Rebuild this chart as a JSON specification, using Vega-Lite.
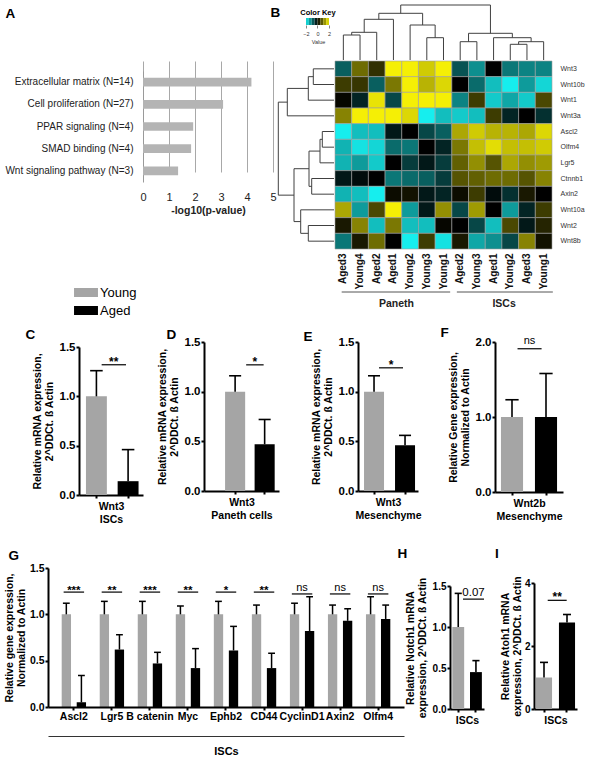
{
"$schema":"https://vega.github.io/schema/vega-lite/v6.json",
"padding":0,"autosize":{"type":"pad"},"background":"white",
"spacing":0,
"config":{
 "font":"Liberation Sans",
 "view":{"stroke":null},
 "title":{"anchor":"start","frame":"group","offset":0,"fontSize":13.5,"fontWeight":"bold","baseline":"middle","color":"#000"},
 "axis":{"domainColor":"#000","domainWidth":2,"tickColor":"#000","tickWidth":2,"tickSize":3,"labelFontSize":11.5,"labelFontWeight":"bold","labelColor":"#000","labelPadding":1,"titleFontSize":10.5,"titleFontWeight":"bold","titleColor":"#000","grid":false,"labelFlush":false,"labelOverlap":false},
 "axisX":{"titleLineHeight":13,"titlePadding":2},
 "axisY":{"titleLineHeight":12,"titlePadding":5}
},
"datasets":{
 "hm":[
{"g":"Wnt3","c":1,"v":-0.8},{"g":"Wnt3","c":2,"v":0.9},{"g":"Wnt3","c":3,"v":0.4},{"g":"Wnt3","c":4,"v":2},{"g":"Wnt3","c":5,"v":2},{"g":"Wnt3","c":6,"v":1.7},{"g":"Wnt3","c":7,"v":2},{"g":"Wnt3","c":8,"v":-0.7},{"g":"Wnt3","c":9,"v":-1.2},{"g":"Wnt3","c":10,"v":0},{"g":"Wnt3","c":11,"v":-1.0},{"g":"Wnt3","c":12,"v":-1.1},{"g":"Wnt3","c":13,"v":-1.1},
{"g":"Wnt10b","c":1,"v":0.5},{"g":"Wnt10b","c":2,"v":0.45},{"g":"Wnt10b","c":3,"v":-0.8},{"g":"Wnt10b","c":4,"v":1.0},{"g":"Wnt10b","c":5,"v":2},{"g":"Wnt10b","c":6,"v":1.5},{"g":"Wnt10b","c":7,"v":1.8},{"g":"Wnt10b","c":8,"v":0},{"g":"Wnt10b","c":9,"v":-0.9},{"g":"Wnt10b","c":10,"v":-1.6},{"g":"Wnt10b","c":11,"v":-2},{"g":"Wnt10b","c":12,"v":-1.3},{"g":"Wnt10b","c":13,"v":-1.8},
{"g":"Wnt1","c":1,"v":0.05},{"g":"Wnt1","c":2,"v":-0.3},{"g":"Wnt1","c":3,"v":1.9},{"g":"Wnt1","c":4,"v":-0.6},{"g":"Wnt1","c":5,"v":2},{"g":"Wnt1","c":6,"v":2},{"g":"Wnt1","c":7,"v":2},{"g":"Wnt1","c":8,"v":-1.1},{"g":"Wnt1","c":9,"v":0.5},{"g":"Wnt1","c":10,"v":-1.7},{"g":"Wnt1","c":11,"v":-1.4},{"g":"Wnt1","c":12,"v":-1.7},{"g":"Wnt1","c":13,"v":0.6},
{"g":"Wnt3a","c":1,"v":1.1},{"g":"Wnt3a","c":2,"v":2},{"g":"Wnt3a","c":3,"v":2},{"g":"Wnt3a","c":4,"v":2},{"g":"Wnt3a","c":5,"v":1.8},{"g":"Wnt3a","c":6,"v":-2},{"g":"Wnt3a","c":7,"v":-1.6},{"g":"Wnt3a","c":8,"v":-1.7},{"g":"Wnt3a","c":9,"v":-1.6},{"g":"Wnt3a","c":10,"v":0.5},{"g":"Wnt3a","c":11,"v":-0.3},{"g":"Wnt3a","c":12,"v":0},{"g":"Wnt3a","c":13,"v":-0.4},
{"g":"Ascl2","c":1,"v":-2},{"g":"Ascl2","c":2,"v":-1.6},{"g":"Ascl2","c":3,"v":-1.6},{"g":"Ascl2","c":4,"v":-0.2},{"g":"Ascl2","c":5,"v":0},{"g":"Ascl2","c":6,"v":-0.6},{"g":"Ascl2","c":7,"v":-0.8},{"g":"Ascl2","c":8,"v":1.4},{"g":"Ascl2","c":9,"v":1.7},{"g":"Ascl2","c":10,"v":1.5},{"g":"Ascl2","c":11,"v":1.5},{"g":"Ascl2","c":12,"v":1.4},{"g":"Ascl2","c":13,"v":1.8},
{"g":"Olfm4","c":1,"v":-1.5},{"g":"Olfm4","c":2,"v":-1.9},{"g":"Olfm4","c":3,"v":-1.8},{"g":"Olfm4","c":4,"v":-0.9},{"g":"Olfm4","c":5,"v":-1.0},{"g":"Olfm4","c":6,"v":0},{"g":"Olfm4","c":7,"v":-0.3},{"g":"Olfm4","c":8,"v":1.0},{"g":"Olfm4","c":9,"v":1.6},{"g":"Olfm4","c":10,"v":1.85},{"g":"Olfm4","c":11,"v":1.6},{"g":"Olfm4","c":12,"v":1.6},{"g":"Olfm4","c":13,"v":1.7},
{"g":"Lgr5","c":1,"v":-1.5},{"g":"Lgr5","c":2,"v":-1.3},{"g":"Lgr5","c":3,"v":-1.7},{"g":"Lgr5","c":4,"v":0},{"g":"Lgr5","c":5,"v":-0.5},{"g":"Lgr5","c":6,"v":-0.2},{"g":"Lgr5","c":7,"v":-0.5},{"g":"Lgr5","c":8,"v":0.8},{"g":"Lgr5","c":9,"v":1.2},{"g":"Lgr5","c":10,"v":0.7},{"g":"Lgr5","c":11,"v":1.4},{"g":"Lgr5","c":12,"v":1.2},{"g":"Lgr5","c":13,"v":1.3},
{"g":"Ctnnb1","c":1,"v":-0.2},{"g":"Ctnnb1","c":2,"v":-0.1},{"g":"Ctnnb1","c":3,"v":0},{"g":"Ctnnb1","c":4,"v":-1.0},{"g":"Ctnnb1","c":5,"v":-0.9},{"g":"Ctnnb1","c":6,"v":-0.8},{"g":"Ctnnb1","c":7,"v":-0.5},{"g":"Ctnnb1","c":8,"v":0.7},{"g":"Ctnnb1","c":9,"v":0.8},{"g":"Ctnnb1","c":10,"v":0.9},{"g":"Ctnnb1","c":11,"v":0.9},{"g":"Ctnnb1","c":12,"v":0.7},{"g":"Ctnnb1","c":13,"v":1.1},
{"g":"Axin2","c":1,"v":-1.5},{"g":"Axin2","c":2,"v":-1.6},{"g":"Axin2","c":3,"v":-2},{"g":"Axin2","c":4,"v":0.1},{"g":"Axin2","c":5,"v":0.15},{"g":"Axin2","c":6,"v":-0.2},{"g":"Axin2","c":7,"v":-0.3},{"g":"Axin2","c":8,"v":0.1},{"g":"Axin2","c":9,"v":0.5},{"g":"Axin2","c":10,"v":-0.1},{"g":"Axin2","c":11,"v":-0.4},{"g":"Axin2","c":12,"v":0.2},{"g":"Axin2","c":13,"v":0},
{"g":"Wnt10a","c":1,"v":1.4},{"g":"Wnt10a","c":2,"v":-1.3},{"g":"Wnt10a","c":3,"v":0.6},{"g":"Wnt10a","c":4,"v":2},{"g":"Wnt10a","c":5,"v":-1.3},{"g":"Wnt10a","c":6,"v":-0.2},{"g":"Wnt10a","c":7,"v":1.2},{"g":"Wnt10a","c":8,"v":-0.6},{"g":"Wnt10a","c":9,"v":1.3},{"g":"Wnt10a","c":10,"v":0},{"g":"Wnt10a","c":11,"v":-1.3},{"g":"Wnt10a","c":12,"v":-0.3},{"g":"Wnt10a","c":13,"v":0.5},
{"g":"Wnt2","c":1,"v":0.2},{"g":"Wnt2","c":2,"v":1.1},{"g":"Wnt2","c":3,"v":-1.6},{"g":"Wnt2","c":4,"v":1.0},{"g":"Wnt2","c":5,"v":-1.6},{"g":"Wnt2","c":6,"v":-1.6},{"g":"Wnt2","c":7,"v":0.05},{"g":"Wnt2","c":8,"v":0},{"g":"Wnt2","c":9,"v":-0.6},{"g":"Wnt2","c":10,"v":-1.6},{"g":"Wnt2","c":11,"v":0.6},{"g":"Wnt2","c":12,"v":-0.2},{"g":"Wnt2","c":13,"v":0.3},
{"g":"Wnt8b","c":1,"v":-1.0},{"g":"Wnt8b","c":2,"v":0.2},{"g":"Wnt8b","c":3,"v":0.9},{"g":"Wnt8b","c":4,"v":0},{"g":"Wnt8b","c":5,"v":-2},{"g":"Wnt8b","c":6,"v":0.5},{"g":"Wnt8b","c":7,"v":-1.9},{"g":"Wnt8b","c":8,"v":0.2},{"g":"Wnt8b","c":9,"v":-1.4},{"g":"Wnt8b","c":10,"v":-1.2},{"g":"Wnt8b","c":11,"v":-0.6},{"g":"Wnt8b","c":12,"v":1.1},{"g":"Wnt8b","c":13,"v":0.15}
 ],
 "gsig":[{"gene":"Ascl2","s":1.24,"t":"***"},{"gene":"Lgr5","s":1.24,"t":"**"},{"gene":"B catenin","s":1.24,"t":"***"},{"gene":"Myc","s":1.24,"t":"**"},{"gene":"Ephb2","s":1.24,"t":"*"},{"gene":"CD44","s":1.24,"t":"**"},{"gene":"CyclinD1","s":1.22,"t":"ns"},{"gene":"Axin2","s":1.22,"t":"ns"},{"gene":"Olfm4","s":1.22,"t":"ns"}],
 "csig":[{"a":"Young","b":"Aged","s":1.32,"t":"**"}],
 "dsig":[{"a":"Young","b":"Aged","s":1.27,"t":"*"}],
 "esig":[{"a":"Young","b":"Aged","s":1.24,"t":"*"}],
 "fsig":[{"a":"Young","b":"Aged","s":1.91,"t":"ns"}],
 "hsig":[{"a":"Young","b":"Aged","s":1.34,"t":"0.07"}],
 "isig":[{"a":"Young","b":"Aged","s":3.45,"t":"**"}]
},
"vconcat":[
{"columns":7,"spacing":0,"bounds":"flush","concat":[
{"width":79,"height":5,"data":{"values":[]},"mark":"point"},
{"width":64,"height":1,"data":{"values":[]},"mark":"point"},
{"width":130,"height":1,"data":{"values":[]},"mark":"point"},
{"width":1,"height":1,"data":{"values":[]},"mark":"point"},
{"width":60,"height":1,"data":{"values":[]},"mark":"point"},
{"width":1,"height":1,"data":{"values":[]},"mark":"point"},
{"width":218,"height":1,"data":{"values":[]},"mark":"point"},

{"width":1,"height":56,"data":{"values":[]},"mark":"point"},
{"width":1,"height":1,"data":{"values":[]},"mark":"point"},
{"width":1,"height":1,"data":{"values":[]},"mark":"point"},
{"width":1,"height":1,"data":{"values":[]},"mark":"point"},
{"width":60,"height":20,
 "title":{"text":"Color Key","anchor":"middle","fontSize":7.5,"offset":2,"baseline":"bottom","dx":14,"dy":21},
 "data":{"values":[{"lo":-2,"hi":-1.5,"m":-1.75},{"lo":-1.5,"hi":-1,"m":-1.25},{"lo":-1,"hi":-0.5,"m":-0.75},{"lo":-0.5,"hi":0,"m":-0.25},{"lo":0,"hi":0.5,"m":0.25},{"lo":0.5,"hi":1,"m":0.75},{"lo":1,"hi":1.5,"m":1.25},{"lo":1.5,"hi":2,"m":1.75}]},
 "mark":{"type":"rect"},
 "encoding":{
  "x":{"field":"lo","type":"quantitative","scale":{"domain":[-7.565,2.87],"nice":false,"zero":false},"axis":{"values":[-2,0,2],"format":"d","labelFontSize":5.5,"labelFontWeight":"normal","labelColor":"#333","domain":false,"tickSize":3,"tickWidth":0.6,"tickColor":"#333","labelPadding":3,"title":"Value","titleFontSize":5.5,"titleFontWeight":"normal","titleColor":"#333","titlePadding":3,"titleX":44}},
  "x2":{"field":"hi"},
  "y":{"datum":0,"type":"quantitative","scale":{"domain":[0,2.857]},"axis":null},
  "y2":{"datum":1},
  "color":{"field":"m","type":"quantitative","scale":{"domain":[-2,0,2],"range":["#16eeee","#000000","#f5ef05"],"interpolate":"rgb"},"legend":null}
 }},
{"width":1,"height":1,"data":{"values":[]},"mark":"point"},
{"width":218,"height":55,
 "data":{"values":[
  {"xl":0.5,"xr":1.5,"hl":0,"hr":0,"h":25},
  {"xl":1.0,"xr":2.5,"hl":25,"hr":0,"h":27.7},
  {"xl":1.75,"xr":3.5,"hl":27.7,"hr":0,"h":40.7},
  {"xl":5.5,"xr":6.5,"hl":0,"hr":0,"h":22.3},
  {"xl":4.5,"xr":6.0,"hl":0,"hr":22.3,"h":35},
  {"xl":2.625,"xr":5.25,"hl":40.7,"hr":35,"h":46.7},
  {"xl":7.5,"xr":8.5,"hl":0,"hr":0,"h":18.3},
  {"xl":10.5,"xr":11.5,"hl":0,"hr":0,"h":15.7},
  {"xl":11.0,"xr":12.5,"hl":15.7,"hr":0,"h":18.3},
  {"xl":9.5,"xr":11.75,"hl":0,"hr":18.3,"h":22.3},
  {"xl":8.0,"xr":10.625,"hl":18.3,"hr":22.3,"h":26.7},
  {"xl":3.9375,"xr":9.3125,"hl":46.7,"hr":26.7,"h":55}]},
 "layer":[
  {"mark":{"type":"rule","color":"#404040","strokeWidth":1},"encoding":{"x":{"field":"xl","type":"quantitative","scale":{"domain":[0,13.06],"nice":false,"zero":false},"axis":null},"x2":{"field":"xr"},"y":{"field":"h","type":"quantitative","scale":{"domain":[0,55],"nice":false},"axis":null}}},
  {"mark":{"type":"rule","color":"#404040","strokeWidth":1},"encoding":{"x":{"field":"xl","type":"quantitative"},"y":{"field":"hl","type":"quantitative"},"y2":{"field":"h"}}},
  {"mark":{"type":"rule","color":"#404040","strokeWidth":1},"encoding":{"x":{"field":"xr","type":"quantitative"},"y":{"field":"hr","type":"quantitative"},"y2":{"field":"h"}}}
 ]},

{"width":1,"height":188,"data":{"values":[]},"mark":"point"},
{"width":1,"height":1,"data":{"values":[]},"mark":"point"},
{"width":130,"height":121,
 "title":{"text":"A","dx":-137.5,"dy":-37},
 "data":{"values":[{"cat":"Extracellular matrix (N=14)","v":4.17},{"cat":"Cell proliferation (N=27)","v":3.08},{"cat":"PPAR signaling (N=4)","v":1.93},{"cat":"SMAD binding (N=4)","v":1.85},{"cat":"Wnt signaling pathway (N=3)","v":1.35}]},
 "mark":{"type":"bar","color":"#b4b4b4"},
 "encoding":{
  "y":{"field":"cat","type":"nominal","scale":{"domain":["Extracellular matrix (N=14)","Cell proliferation (N=27)","PPAR signaling (N=4)","SMAD binding (N=4)","Wnt signaling pathway (N=3)"],"range":[10,121],"paddingInner":0.61,"paddingOuter":0.305},"axis":{"title":null,"ticks":false,"domainColor":"#9a9a9a","domainWidth":1,"labelFontSize":10,"labelFontWeight":"normal","labelColor":"#222","labelPadding":10}},
  "x":{"field":"v","type":"quantitative","scale":{"domain":[0,5],"nice":false},"axis":{"values":[0,1,2,3,4,5],"format":"d","grid":true,"gridColor":"#a8a8a8","domain":false,"ticks":false,"labelFontSize":11,"labelFontWeight":"normal","labelColor":"#222","labelPadding":9,"title":"-log10(p-value)","titleFontSize":10.5,"titleFontWeight":"bold","titleColor":"#222","titlePadding":3}}
 }},
{"width":1,"height":1,"data":{"values":[]},"mark":"point"},
{"width":60,"height":188,
 "title":{"text":"B","dx":-3.5,"dy":-38},
 "data":{"values":[
  {"yl":0.5,"yr":1.5,"hl":0,"hr":0,"h":20.7},
  {"yl":1.0,"yr":2.5,"hl":20.7,"hr":0,"h":25.7},
  {"yl":1.75,"yr":3.5,"hl":25.7,"hr":0,"h":46.7},
  {"yl":4.5,"yr":5.5,"hl":0,"hr":0,"h":11.7},
  {"yl":5.0,"yr":6.5,"hl":11.7,"hr":0,"h":14},
  {"yl":7.5,"yr":8.5,"hl":0,"hr":0,"h":22.3},
  {"yl":5.75,"yr":8.0,"hl":14,"hr":22.3,"h":25},
  {"yl":10.5,"yr":11.5,"hl":0,"hr":0,"h":25.7},
  {"yl":9.5,"yr":11.0,"hl":0,"hr":25.7,"h":33.3},
  {"yl":6.875,"yr":10.25,"hl":25,"hr":33.3,"h":40},
  {"yl":2.625,"yr":8.5625,"hl":46.7,"hr":40,"h":55.7}]},
 "layer":[
  {"mark":{"type":"rule","color":"#404040","strokeWidth":1},"encoding":{"x":{"field":"h","type":"quantitative","scale":{"domain":[0,60],"nice":false,"reverse":true},"axis":null},"y":{"field":"yl","type":"quantitative","scale":{"domain":[0,12],"nice":false,"reverse":true},"axis":null},"y2":{"field":"yr"}}},
  {"mark":{"type":"rule","color":"#404040","strokeWidth":1},"encoding":{"y":{"field":"yl","type":"quantitative"},"x":{"field":"hl","type":"quantitative"},"x2":{"field":"h"}}},
  {"mark":{"type":"rule","color":"#404040","strokeWidth":1},"encoding":{"y":{"field":"yr","type":"quantitative"},"x":{"field":"hr","type":"quantitative"},"x2":{"field":"h"}}}
 ]},
{"width":1,"height":1,"data":{"values":[]},"mark":"point"},
{"width":217,"height":188,
 "data":{"name":"hm"},
 "mark":{"type":"rect","stroke":"#a0a0a0","strokeWidth":0.6},
 "encoding":{
  "x":{"field":"c","type":"ordinal","scale":{"paddingInner":0,"paddingOuter":0},"axis":{"title":null,"ticks":false,"domain":false,"labelAngle":270,"labelFontSize":10,"labelFontWeight":"bold","labelColor":"#111","labelPadding":4,"labelExpr":"['Aged3','Young4','Aged2','Aged1','Young2','Young3','Young1','Aged2','Young3','Aged1','Young2','Aged3','Young1'][datum.value-1]"}},
  "y":{"field":"g","type":"nominal","scale":{"domain":["Wnt3","Wnt10b","Wnt1","Wnt3a","Ascl2","Olfm4","Lgr5","Ctnnb1","Axin2","Wnt10a","Wnt2","Wnt8b"],"paddingInner":0,"paddingOuter":0},"axis":{"orient":"right","title":null,"ticks":false,"domain":false,"labelFontSize":7,"labelFontWeight":"normal","labelColor":"#333","labelPadding":8}},
  "color":{"field":"v","type":"quantitative","scale":{"domain":[-2,0,2],"range":["#16eeee","#000000","#f5ef05"],"interpolate":"rgb","clamp":true},"legend":null}
 }},

{"width":1,"height":42,"data":{"values":[]},"mark":"point"},
{"width":1,"height":1,"data":{"values":[]},"mark":"point"},
{"width":1,"height":1,"data":{"values":[]},"mark":"point"},
{"width":1,"height":1,"data":{"values":[]},"mark":"point"},
{"width":1,"height":1,"data":{"values":[]},"mark":"point"},
{"width":1,"height":1,"data":{"values":[]},"mark":"point"},
{"width":1,"height":1,"data":{"values":[]},"mark":"point"},

{"width":1,"height":2,"data":{"values":[]},"mark":"point"},
{"width":1,"height":1,"data":{"values":[]},"mark":"bar",
 "encoding":{"color":{"field":"grp","type":"nominal","scale":{"domain":["Young","Aged"],"range":["#a5a5a5","#000000"]},"legend":{"orient":"none","legendX":-2,"legendY":-7.5,"title":null,"padding":0,"symbolType":"M-1.33,-0.5H1.33V0.5H-1.33Z","symbolSize":324,"symbolStrokeWidth":0,"labelFontSize":13,"labelFont":"Liberation Sans","labelColor":"#000","labelOffset":5,"rowPadding":2}}}},
{"width":1,"height":1,"data":{"values":[]},"mark":"point"},
{"width":1,"height":1,"data":{"values":[]},"mark":"point"},
{"width":1,"height":1,"data":{"values":[]},"mark":"point"},
{"width":1,"height":1,"data":{"values":[]},"mark":"point"},
{"width":217,"height":2,
 "data":{"values":[{"grp":"Paneth","x1":0.4,"x2":6.9},{"grp":"ISCs","x1":7.3,"x2":13.05}]},
 "mark":{"type":"rule","color":"#555","strokeWidth":1},
 "encoding":{
  "x":{"field":"x1","type":"quantitative","scale":{"domain":[0,13],"nice":false},"axis":{"values":[3.65,10.1],"labelExpr":"datum.value < 7 ? 'Paneth' : 'ISCs'","title":null,"domain":false,"ticks":false,"labelFontSize":10.5,"labelFontWeight":"bold","labelColor":"#222","labelPadding":5}},
  "x2":{"field":"x2"}
 }},

{"width":1,"height":27,"data":{"values":[]},"mark":"point"},
{"width":1,"height":1,"data":{"values":[]},"mark":"point"},
{"width":1,"height":1,"data":{"values":[]},"mark":"point"},
{"width":1,"height":1,"data":{"values":[]},"mark":"point"},
{"width":1,"height":1,"data":{"values":[]},"mark":"point"},
{"width":1,"height":1,"data":{"values":[]},"mark":"point"},
{"width":1,"height":1,"data":{"values":[]},"mark":"point"}
]},

{"columns":8,"spacing":0,"bounds":"flush","concat":[
{"width":79,"height":22,"data":{"values":[]},"mark":"point"},
{"width":64,"height":1,"data":{"values":[]},"mark":"point"},
{"width":61,"height":1,"data":{"values":[]},"mark":"point"},
{"width":75,"height":1,"data":{"values":[]},"mark":"point"},
{"width":79,"height":1,"data":{"values":[]},"mark":"point"},
{"width":60,"height":1,"data":{"values":[]},"mark":"point"},
{"width":77,"height":1,"data":{"values":[]},"mark":"point"},
{"width":68,"height":1,"data":{"values":[]},"mark":"point"},

{"width":1,"height":1,"data":{"values":[]},"mark":"point"},
{"width":64,"height":153,
 "title":{"text":"C","dx":-53.5,"dy":4},
 "data":{"values":[{"grp":"Young","v":1.0,"e":1.26},{"grp":"Aged","v":0.14,"e":0.46}]},
 "layer":[
  {"mark":"bar","encoding":{
    "x":{"field":"grp","type":"nominal","scale":{"domain":["Young","Aged"],"paddingInner":0.34,"paddingOuter":0.18,"align":0.61},"axis":{"labels":false,"title":["Wnt3","ISCs"]}},
    "y":{"field":"v","type":"quantitative","scale":{"domain":[0,1.5],"nice":false,"range":[153,5]},"axis":{"values":[0,0.5,1,1.5],"format":".1f","title":["Relative mRNA expression,","2^DDCt. ß Actin"]}},
    "color":{"field":"grp","type":"nominal","scale":{"domain":["Young","Aged"],"range":["#a5a5a5","#000000"]},"legend":null}}},
  {"mark":{"type":"rule","strokeWidth":1.6,"color":"#000"},"encoding":{"x":{"field":"grp","type":"nominal"},"y":{"field":"v","type":"quantitative"},"y2":{"field":"e"}}},
  {"mark":{"type":"rule","strokeWidth":1.6,"color":"#000"},"encoding":{"x":{"field":"grp","type":"nominal","bandPosition":0.2},"x2":{"field":"grp","bandPosition":0.8},"y":{"field":"e","type":"quantitative"}}},
  {"data":{"name":"csig"},"mark":{"type":"rule","strokeWidth":1.2,"color":"#000"},"encoding":{"x":{"field":"a","type":"nominal","bandPosition":0.75},"x2":{"field":"b","bandPosition":0.4},"y":{"field":"s","type":"quantitative"}}},
  {"data":{"name":"csig"},"mark":{"type":"text","fontSize":12,"fontWeight":"bold","baseline":"alphabetic","dy":1},"encoding":{"x":{"field":"a","type":"nominal","bandPosition":1.33},"y":{"field":"s","type":"quantitative"},"text":{"field":"t"}}}
 ]},
{"width":1,"height":1,"data":{"values":[]},"mark":"point"},
{"width":75,"height":149,
 "title":{"text":"D","dx":-37.5,"dy":9},
 "data":{"values":[{"grp":"Young","v":1.0,"e":1.16},{"grp":"Aged","v":0.47,"e":0.72}]},
 "layer":[
  {"mark":"bar","encoding":{
    "x":{"field":"grp","type":"nominal","scale":{"domain":["Young","Aged"],"paddingInner":0.32,"paddingOuter":0.43,"align":0.83},"axis":{"labels":false,"title":["Wnt3","Paneth cells"]}},
    "y":{"field":"v","type":"quantitative","scale":{"domain":[0,1.5],"nice":false},"axis":{"values":[0,0.5,1,1.5],"format":".1f","title":["Relative mRNA expression,","2^DDCt. ß Actin"]}},
    "color":{"field":"grp","type":"nominal","scale":{"domain":["Young","Aged"],"range":["#a5a5a5","#000000"]},"legend":null}}},
  {"mark":{"type":"rule","strokeWidth":1.6,"color":"#000"},"encoding":{"x":{"field":"grp","type":"nominal"},"y":{"field":"v","type":"quantitative"},"y2":{"field":"e"}}},
  {"mark":{"type":"rule","strokeWidth":1.6,"color":"#000"},"encoding":{"x":{"field":"grp","type":"nominal","bandPosition":0.2},"x2":{"field":"grp","bandPosition":0.8},"y":{"field":"e","type":"quantitative"}}},
  {"data":{"name":"dsig"},"mark":{"type":"rule","strokeWidth":1.2,"color":"#000"},"encoding":{"x":{"field":"a","type":"nominal","bandPosition":1.05},"x2":{"field":"b","bandPosition":0.45},"y":{"field":"s","type":"quantitative"}}},
  {"data":{"name":"dsig"},"mark":{"type":"text","fontSize":12,"fontWeight":"bold","baseline":"alphabetic","dy":1},"encoding":{"x":{"field":"a","type":"nominal","bandPosition":1.485},"y":{"field":"s","type":"quantitative"},"text":{"field":"t"}}}
 ]},
{"width":1,"height":1,"data":{"values":[]},"mark":"point"},
{"width":60,"height":149,
 "title":{"text":"E","dx":-54.5,"dy":11},
 "data":{"values":[{"grp":"Young","v":1.0,"e":1.16},{"grp":"Aged","v":0.46,"e":0.56}]},
 "layer":[
  {"mark":"bar","encoding":{
    "x":{"field":"grp","type":"nominal","scale":{"domain":["Young","Aged"],"paddingInner":0.355,"paddingOuter":0.145,"align":0.67},"axis":{"labels":false,"title":["Wnt3","Mesenchyme"]}},
    "y":{"field":"v","type":"quantitative","scale":{"domain":[0,1.5],"nice":false},"axis":{"values":[0,0.5,1,1.5],"format":".1f","title":["Relative mRNA expression,","2^DDCt. ß Actin"]}},
    "color":{"field":"grp","type":"nominal","scale":{"domain":["Young","Aged"],"range":["#a5a5a5","#000000"]},"legend":null}}},
  {"mark":{"type":"rule","strokeWidth":1.6,"color":"#000"},"encoding":{"x":{"field":"grp","type":"nominal"},"y":{"field":"v","type":"quantitative"},"y2":{"field":"e"}}},
  {"mark":{"type":"rule","strokeWidth":1.6,"color":"#000"},"encoding":{"x":{"field":"grp","type":"nominal","bandPosition":0.2},"x2":{"field":"grp","bandPosition":0.8},"y":{"field":"e","type":"quantitative"}}},
  {"data":{"name":"esig"},"mark":{"type":"rule","strokeWidth":1.2,"color":"#000"},"encoding":{"x":{"field":"a","type":"nominal","bandPosition":0.75},"x2":{"field":"b","bandPosition":0.4},"y":{"field":"s","type":"quantitative"}}},
  {"data":{"name":"esig"},"mark":{"type":"text","fontSize":12,"fontWeight":"bold","baseline":"alphabetic","dy":1},"encoding":{"x":{"field":"a","type":"nominal","bandPosition":1.35},"y":{"field":"s","type":"quantitative"},"text":{"field":"t"}}}
 ]},
{"width":1,"height":1,"data":{"values":[]},"mark":"point"},
{"width":68,"height":150,
 "title":{"text":"F","dx":-54.5,"dy":9},
 "data":{"values":[{"grp":"Young","v":1.0,"e":1.23},{"grp":"Aged","v":1.0,"e":1.58}]},
 "layer":[
  {"mark":"bar","encoding":{
    "x":{"field":"grp","type":"nominal","scale":{"domain":["Young","Aged"],"paddingInner":0.35,"paddingOuter":0.175,"align":0.5},"axis":{"labels":false,"title":["Wnt2b","Mesenchyme"]}},
    "y":{"field":"v","type":"quantitative","scale":{"domain":[0,2],"nice":false},"axis":{"values":[0,0.5,1,1.5,2],"format":".1f","title":["Relative Gene expression,","Normalized to Actin"]}},
    "color":{"field":"grp","type":"nominal","scale":{"domain":["Young","Aged"],"range":["#a5a5a5","#000000"]},"legend":null}}},
  {"mark":{"type":"rule","strokeWidth":1.6,"color":"#000"},"encoding":{"x":{"field":"grp","type":"nominal"},"y":{"field":"v","type":"quantitative"},"y2":{"field":"e"}}},
  {"mark":{"type":"rule","strokeWidth":1.6,"color":"#000"},"encoding":{"x":{"field":"grp","type":"nominal","bandPosition":0.2},"x2":{"field":"grp","bandPosition":0.8},"y":{"field":"e","type":"quantitative"}}},
  {"data":{"name":"fsig"},"mark":{"type":"rule","strokeWidth":1.2,"color":"#000"},"encoding":{"x":{"field":"a","type":"nominal","bandPosition":0.75},"x2":{"field":"b","bandPosition":0.3},"y":{"field":"s","type":"quantitative"}}},
  {"data":{"name":"fsig"},"mark":{"type":"text","fontSize":11,"fontWeight":"normal","baseline":"alphabetic","dy":-5},"encoding":{"x":{"field":"a","type":"nominal","bandPosition":1.294},"y":{"field":"s","type":"quantitative"},"text":{"field":"t"}}}
 ]},

{"width":1,"height":50,"data":{"values":[]},"mark":"point"},
{"width":1,"height":1,"data":{"values":[]},"mark":"point"},
{"width":1,"height":1,"data":{"values":[]},"mark":"point"},
{"width":1,"height":1,"data":{"values":[]},"mark":"point"},
{"width":1,"height":1,"data":{"values":[]},"mark":"point"},
{"width":1,"height":1,"data":{"values":[]},"mark":"point"},
{"width":1,"height":1,"data":{"values":[]},"mark":"point"},
{"width":1,"height":1,"data":{"values":[]},"mark":"point"}
]},

{"columns":6,"spacing":0,"bounds":"flush","concat":[
{"width":48,"height":23,"data":{"values":[]},"mark":"point"},
{"width":356,"height":1,"data":{"values":[]},"mark":"point"},
{"width":46,"height":1,"data":{"values":[]},"mark":"point"},
{"width":34,"height":1,"data":{"values":[]},"mark":"point"},
{"width":50,"height":1,"data":{"values":[]},"mark":"point"},
{"width":43,"height":1,"data":{"values":[]},"mark":"point"},

{"width":1,"height":1,"data":{"values":[]},"mark":"point"},
{"width":356,"height":139,
 "title":{"text":"G","dx":-39.5,"dy":3},
 "data":{"values":[
  {"gene":"Ascl2","grp":"Young","v":1,"e":1.12},{"gene":"Ascl2","grp":"Aged","v":0.05,"e":0.34},
  {"gene":"Lgr5","grp":"Young","v":1,"e":1.14},{"gene":"Lgr5","grp":"Aged","v":0.62,"e":0.78},
  {"gene":"B catenin","grp":"Young","v":1,"e":1.14},{"gene":"B catenin","grp":"Aged","v":0.47,"e":0.59},
  {"gene":"Myc","grp":"Young","v":1,"e":1.09},{"gene":"Myc","grp":"Aged","v":0.42,"e":0.63},
  {"gene":"Ephb2","grp":"Young","v":1,"e":1.14},{"gene":"Ephb2","grp":"Aged","v":0.61,"e":0.87},
  {"gene":"CD44","grp":"Young","v":1,"e":1.10},{"gene":"CD44","grp":"Aged","v":0.42,"e":0.58},
  {"gene":"CyclinD1","grp":"Young","v":1,"e":1.12},{"gene":"CyclinD1","grp":"Aged","v":0.82,"e":1.19},
  {"gene":"Axin2","grp":"Young","v":1,"e":1.10},{"gene":"Axin2","grp":"Aged","v":0.93,"e":1.06},
  {"gene":"Olfm4","grp":"Young","v":1,"e":1.19},{"gene":"Olfm4","grp":"Aged","v":0.95,"e":1.10}]},
 "resolve":{"scale":{"x":"independent"},"axis":{"x":"independent"}},
 "layer":[
  {"layer":[
   {"transform":[{"filter":"datum.grp==='Young'"}],"mark":{"type":"rect","color":"#a5a5a5"},"encoding":{
     "x":{"field":"gene","type":"nominal","bandPosition":0,"scale":{"domain":["Ascl2","Lgr5","B catenin","Myc","Ephb2","CD44","CyclinD1","Axin2","Olfm4"],"paddingInner":0.36,"paddingOuter":0.36},"axis":{"orient":"bottom","title":null,"labelFontSize":10.5,"labelPadding":1,"labelAngle":0}},
     "x2":{"field":"gene","bandPosition":0.383},
     "y":{"field":"v","type":"quantitative","scale":{"domain":[0,1.5],"nice":false},"axis":{"values":[0,0.5,1,1.5],"format":".1f","labelFontSize":10.5,"titlePadding":3,"title":["Relative gene expression,","Normalized to Actin"]}},
     "y2":{"datum":0}}},
   {"transform":[{"filter":"datum.grp==='Aged'"}],"mark":{"type":"rect","color":"#000000"},"encoding":{
     "x":{"field":"gene","type":"nominal","bandPosition":0.617},"x2":{"field":"gene","bandPosition":1},
     "y":{"field":"v","type":"quantitative"},"y2":{"datum":0}}},
   {"transform":[{"filter":"datum.grp==='Young'"}],"mark":{"type":"rule","strokeWidth":1.5,"color":"#000"},"encoding":{"x":{"field":"gene","type":"nominal","bandPosition":0.19},"y":{"field":"v","type":"quantitative"},"y2":{"field":"e"}}},
   {"transform":[{"filter":"datum.grp==='Young'"}],"mark":{"type":"rule","strokeWidth":1.5,"color":"#000"},"encoding":{"x":{"field":"gene","type":"nominal","bandPosition":0.05},"x2":{"field":"gene","bandPosition":0.33},"y":{"field":"e","type":"quantitative"}}},
   {"transform":[{"filter":"datum.grp==='Aged'"}],"mark":{"type":"rule","strokeWidth":1.5,"color":"#000"},"encoding":{"x":{"field":"gene","type":"nominal","bandPosition":0.81},"y":{"field":"v","type":"quantitative"},"y2":{"field":"e"}}},
   {"transform":[{"filter":"datum.grp==='Aged'"}],"mark":{"type":"rule","strokeWidth":1.5,"color":"#000"},"encoding":{"x":{"field":"gene","type":"nominal","bandPosition":0.67},"x2":{"field":"gene","bandPosition":0.95},"y":{"field":"e","type":"quantitative"}}},
   {"data":{"name":"gsig"},"mark":{"type":"rule","strokeWidth":1.2,"color":"#000"},"encoding":{"x":{"field":"gene","type":"nominal","bandPosition":0.08},"x2":{"field":"gene","bandPosition":0.92},"y":{"field":"s","type":"quantitative"}}},
   {"data":{"name":"gsig"},"transform":[{"filter":"datum.t!=='ns'"}],"mark":{"type":"text","fontSize":11.5,"fontWeight":"bold","baseline":"alphabetic","dy":2},"encoding":{"x":{"field":"gene","type":"nominal","bandPosition":0.5},"y":{"field":"s","type":"quantitative"},"text":{"field":"t"}}},
   {"data":{"name":"gsig"},"transform":[{"filter":"datum.t==='ns'"}],"mark":{"type":"text","fontSize":11,"fontWeight":"normal","baseline":"alphabetic","dy":-3},"encoding":{"x":{"field":"gene","type":"nominal","bandPosition":0.5},"y":{"field":"s","type":"quantitative"},"text":{"field":"t"}}}
  ]},
  {"mark":{"type":"point","opacity":0},"encoding":{"x":{"datum":0,"type":"quantitative","scale":{"domain":[0,1]},"axis":{"orient":"bottom","offset":29,"domainWidth":1,"domainColor":"#333","labels":false,"ticks":false,"title":"ISCs","titlePadding":9,"titleFontSize":11}}}}
 ]},
{"width":1,"height":1,"data":{"values":[]},"mark":"point"},
{"width":34,"height":141,
 "title":{"text":"H","dx":-52.5,"dy":-4},
 "data":{"values":[{"grp":"Young","v":1.0,"e":1.41},{"grp":"Aged","v":0.45,"e":0.59}]},
 "layer":[
  {"mark":"bar","encoding":{
    "x":{"field":"grp","type":"nominal","scale":{"domain":["Young","Aged"],"paddingInner":0.33,"paddingOuter":0.125,"align":0.52},"axis":{"labels":false,"title":"ISCs"}},
    "y":{"field":"v","type":"quantitative","scale":{"domain":[0,1.5],"nice":false,"range":[141,18]},"axis":{"values":[0,0.5,1,1.5],"format":".1f","labelFontSize":10,"title":["Relative Notch1 mRNA","expression, 2^DDCt. ß Actin"]}},
    "color":{"field":"grp","type":"nominal","scale":{"domain":["Young","Aged"],"range":["#a5a5a5","#000000"]},"legend":null}}},
  {"mark":{"type":"rule","strokeWidth":1.6,"color":"#000"},"encoding":{"x":{"field":"grp","type":"nominal"},"y":{"field":"v","type":"quantitative"},"y2":{"field":"e"}}},
  {"mark":{"type":"rule","strokeWidth":1.6,"color":"#000"},"encoding":{"x":{"field":"grp","type":"nominal","bandPosition":0.2},"x2":{"field":"grp","bandPosition":0.8},"y":{"field":"e","type":"quantitative"}}},
  {"data":{"name":"hsig"},"mark":{"type":"rule","strokeWidth":1.2,"color":"#000"},"encoding":{"x":{"field":"a","type":"nominal","bandPosition":0.9},"x2":{"field":"b","bandPosition":1.18},"y":{"field":"s","type":"quantitative"}}},
  {"data":{"name":"hsig"},"mark":{"type":"text","fontSize":11.5,"fontWeight":"normal","baseline":"alphabetic","dy":-2.7},"encoding":{"x":{"field":"a","type":"nominal","bandPosition":1.79},"y":{"field":"s","type":"quantitative"},"text":{"field":"t"}}}
 ]},
{"width":1,"height":1,"data":{"values":[]},"mark":"point"},
{"width":43,"height":141,
 "title":{"text":"I","dx":-39,"dy":-4},
 "data":{"values":[{"grp":"Young","v":1.0,"e":1.48},{"grp":"Aged","v":2.75,"e":3.0}]},
 "layer":[
  {"mark":"bar","encoding":{
    "x":{"field":"grp","type":"nominal","scale":{"domain":["Young","Aged"],"paddingInner":0.3,"paddingOuter":0.085,"align":0.5},"axis":{"labels":false,"title":"ISCs"}},
    "y":{"field":"v","type":"quantitative","scale":{"domain":[0,4],"nice":false,"range":[141,15]},"axis":{"values":[0,1,2,3,4],"format":"d","labelFontSize":10,"labelOverlap":false,"titlePadding":2,"title":["Relative Atoh1 mRNA","expression, 2^DDCt. ß Actin"]}},
    "color":{"field":"grp","type":"nominal","scale":{"domain":["Young","Aged"],"range":["#a5a5a5","#000000"]},"legend":null}}},
  {"mark":{"type":"rule","strokeWidth":1.6,"color":"#000"},"encoding":{"x":{"field":"grp","type":"nominal"},"y":{"field":"v","type":"quantitative"},"y2":{"field":"e"}}},
  {"mark":{"type":"rule","strokeWidth":1.6,"color":"#000"},"encoding":{"x":{"field":"grp","type":"nominal","bandPosition":0.25},"x2":{"field":"grp","bandPosition":0.75},"y":{"field":"e","type":"quantitative"}}},
  {"data":{"name":"isig"},"mark":{"type":"rule","strokeWidth":1.2,"color":"#000"},"encoding":{"x":{"field":"a","type":"nominal","bandPosition":0.73},"x2":{"field":"b","bandPosition":0.48},"y":{"field":"s","type":"quantitative"}}},
  {"data":{"name":"isig"},"mark":{"type":"text","fontSize":12,"fontWeight":"bold","baseline":"alphabetic","dy":1},"encoding":{"x":{"field":"a","type":"nominal","bandPosition":1.32},"y":{"field":"s","type":"quantitative"},"text":{"field":"t"}}}
 ]},

{"width":1,"height":53,"data":{"values":[]},"mark":"point"},
{"width":1,"height":1,"data":{"values":[]},"mark":"point"},
{"width":1,"height":1,"data":{"values":[]},"mark":"point"},
{"width":1,"height":1,"data":{"values":[]},"mark":"point"},
{"width":1,"height":1,"data":{"values":[]},"mark":"point"},
{"width":1,"height":1,"data":{"values":[]},"mark":"point"}
]}
]
}
